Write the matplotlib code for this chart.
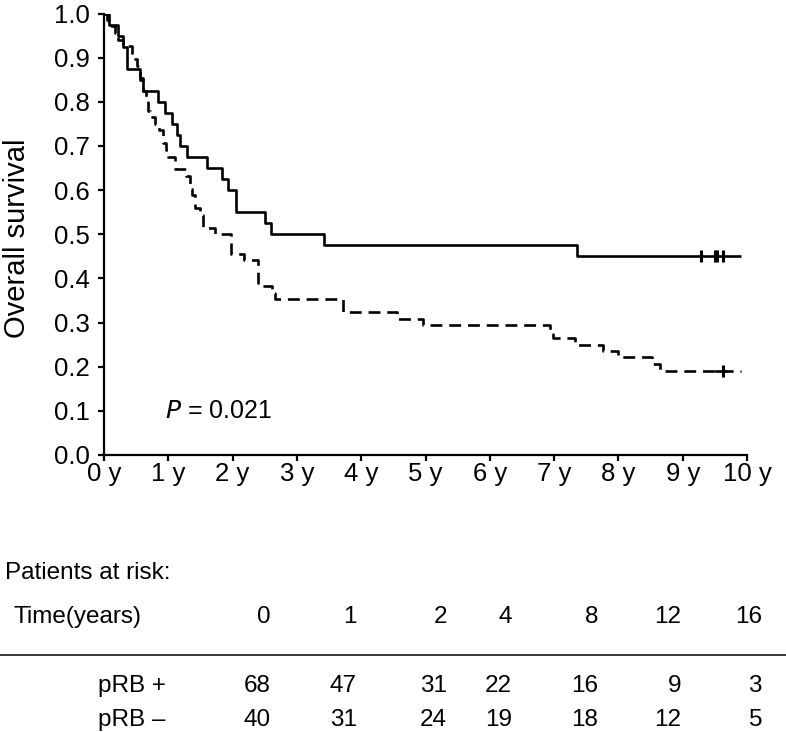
import matplotlib
matplotlib.use("Agg")
import matplotlib.pyplot as plt
from matplotlib.lines import Line2D

plt.rcParams['font.family'] = ['Liberation Sans', 'DejaVu Sans']

# ---- data ----
# pRB- (solid) Kaplan-Meier steps: time (years), survival
neg_t = [0.00, 0.08, 0.22, 0.30, 0.35, 0.56, 0.61, 0.845, 0.95, 1.05, 1.13, 1.18, 1.29,
         1.60, 1.83, 1.93, 2.06, 2.50, 2.59, 3.42, 7.36, 9.91]
neg_s = [1.000, 0.975, 0.950, 0.925, 0.875, 0.850, 0.825, 0.800, 0.775, 0.750, 0.725, 0.700,
         0.675, 0.650, 0.625, 0.600, 0.550, 0.525, 0.500, 0.475, 0.450, 0.450]
neg_cens_t = [9.28, 9.50, 9.53, 9.62]

# pRB+ (dashed)
pos_t = [0.00, 0.04, 0.10, 0.17, 0.22, 0.30, 0.43, 0.51, 0.56, 0.61, 0.65, 0.69, 0.72, 0.80,
         0.86, 0.92, 0.96, 1.00, 1.10, 1.27, 1.33, 1.37, 1.41, 1.49, 1.54, 1.73, 1.98, 2.17,
         2.40, 2.61, 2.66, 3.72, 4.55, 4.96, 6.94, 6.99, 7.33, 7.76, 7.99, 8.52, 8.65, 9.91]
pos_s = [1.000, 0.985, 0.971, 0.956, 0.941, 0.926, 0.897, 0.882, 0.853, 0.824, 0.809, 0.779,
         0.765, 0.750, 0.735, 0.706, 0.691, 0.676, 0.647, 0.632, 0.603, 0.588, 0.559, 0.544,
         0.515, 0.500, 0.456, 0.441, 0.382, 0.368, 0.353, 0.324, 0.309, 0.294, 0.279, 0.265,
         0.250, 0.235, 0.221, 0.206, 0.191, 0.191]
pos_cens_t = [9.62]

x_ticks = list(range(0, 11))
x_labels = [f"{i} y" for i in x_ticks]
y_ticks = [i / 10 for i in range(0, 11)]

risk_times = ["0", "1", "2", "4", "8", "12", "16"]
risk_pos = ["68", "47", "31", "22", "16", "9", "3"]
risk_neg = ["40", "31", "24", "19", "18", "12", "5"]
group_labels = ["pRB +", "pRB \u2013"]

# ---- figure ----
W, H = 786, 732
fig = plt.figure(figsize=(W / 100, H / 100), dpi=100)
ax = fig.add_axes([104 / W, 1 - 455 / H, (747 - 104) / W, (455 - 13.5) / H])

lw = 1.9
ax.plot(neg_t, neg_s, drawstyle='steps-post', color='black', lw=lw, solid_capstyle='butt')
ax.plot(pos_t, pos_s, drawstyle='steps-post', color='black', lw=lw, dashes=(4.5, 2.6))
ax.plot(neg_cens_t, [neg_s[-1]] * len(neg_cens_t), ls='none', marker='|', ms=9,
        mew=2.2, color='black')
ax.plot(pos_cens_t, [pos_s[-1]] * len(pos_cens_t), ls='none', marker='|', ms=9,
        mew=2.2, color='black')
ax.plot([9.52, 9.67], [0.191, 0.191], color='black', lw=lw)

ax.set_xlim(0, 10)
ax.set_ylim(0, 1.0)
ax.set_xticks(x_ticks)
ax.set_xticklabels(x_labels)
ax.set_yticks(y_ticks)
ax.set_yticklabels([f"{v:.1f}" for v in y_ticks])
for s in ['top', 'right']:
    ax.spines[s].set_visible(False)
for s in ['left', 'bottom']:
    ax.spines[s].set_linewidth(1.6)
ax.tick_params(axis='both', direction='out', length=4, width=1.6, labelsize=18.5,
               colors='black')
ax.tick_params(axis='y', pad=6)
ax.tick_params(axis='x', pad=1)
ax.patch.set_alpha(0)

fig.text(17 / W, 1 - 238 / H, "Overall survival", rotation=90, ha='center', va='center',
         fontsize=21)
ax.text(0.95, 0.10, r"$\it{P}$ = 0.021", fontsize=18, ha='left', va='center')

# ---- risk table ----
fs = 17.5
fig.text(5 / W, 1 - 573 / H, "Patients at risk:", fontsize=fs, ha='left', va='center')
fig.text(14 / W, 1 - 617 / H, "Time(years)", fontsize=fs, ha='left', va='center')
fig.add_artist(Line2D([0, 1], [1 - 655 / H, 1 - 655 / H], color='black', lw=1.1,
                      transform=fig.transFigure))
fig.text(98 / W, 1 - 686 / H, group_labels[0], fontsize=fs, ha='left', va='center')
fig.text(98 / W, 1 - 720 / H, group_labels[1], fontsize=fs, ha='left', va='center')
col_right = [271, 357, 447, 512, 598, 681, 762]
for xr, t, p, n in zip(col_right, risk_times, risk_pos, risk_neg):
    fig.text(xr / W, 1 - 617 / H, t, fontsize=fs, ha='right', va='center')
    fig.text(xr / W, 1 - 686 / H, p, fontsize=fs, ha='right', va='center')
    fig.text(xr / W, 1 - 720 / H, n, fontsize=fs, ha='right', va='center')

fig.savefig("out.png", dpi=100)
